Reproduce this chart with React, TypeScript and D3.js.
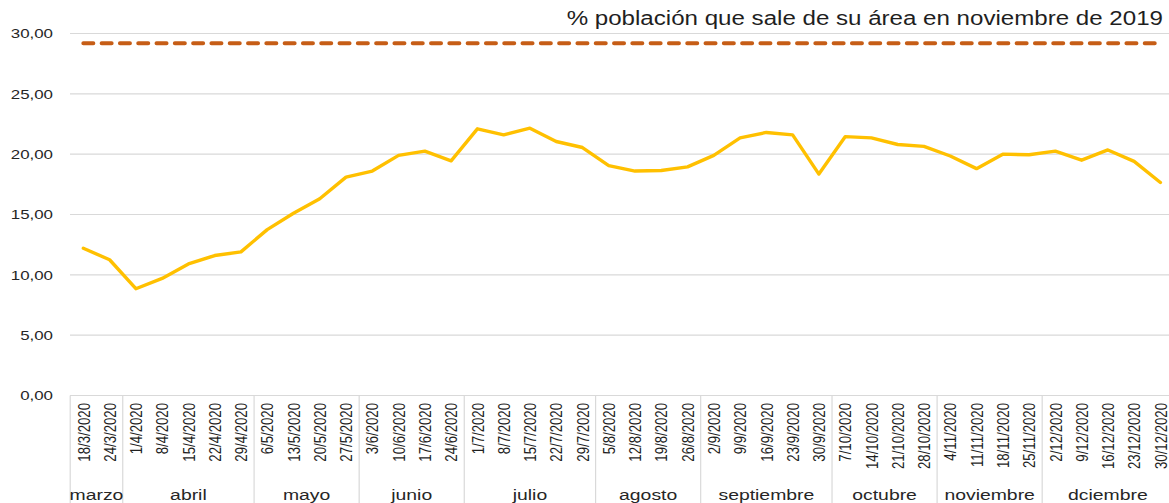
import React from 'react';
import * as d3 from 'd3';

// Semanas 2020 (categorias del eje X)
const dates = [
  '18/3/2020', '24/3/2020',
  '1/4/2020', '8/4/2020', '15/4/2020', '22/4/2020', '29/4/2020',
  '6/5/2020', '13/5/2020', '20/5/2020', '27/5/2020',
  '3/6/2020', '10/6/2020', '17/6/2020', '24/6/2020',
  '1/7/2020', '8/7/2020', '15/7/2020', '22/7/2020', '29/7/2020',
  '5/8/2020', '12/8/2020', '19/8/2020', '26/8/2020',
  '2/9/2020', '9/9/2020', '16/9/2020', '23/9/2020', '30/9/2020',
  '7/10/2020', '14/10/2020', '21/10/2020', '28/10/2020',
  '4/11/2020', '11/11/2020', '18/11/2020', '25/11/2020',
  '2/12/2020', '9/12/2020', '16/12/2020', '23/12/2020', '30/12/2020',
];

const months = ['marzo', 'abril', 'mayo', 'junio', 'julio', 'agosto', 'septiembre', 'octubre', 'noviembre', 'dciembre'];
const monthCounts = [2, 5, 4, 4, 5, 4, 5, 4, 4, 5];

// % poblacion que sale de su area
const values = [
  12.2, 11.25,
  8.85, 9.7, 10.9, 11.6, 11.9,
  13.75, 15.1, 16.3, 18.1,
  18.6, 19.9, 20.25, 19.45,
  22.1, 21.6, 22.15, 21.05, 20.55,
  19.05, 18.6, 18.65, 18.95,
  19.9, 21.35, 21.8, 21.6, 18.35,
  21.45, 21.35, 20.8, 20.65,
  19.85, 18.8, 20.0, 19.95,
  20.25, 19.5, 20.35, 19.4, 17.65,
];

const reference2019 = 29.2;
const yTicks = [0, 5, 10, 15, 20, 25, 30];
const title = '% población que sale de su área en noviembre de 2019';

const W = 1169;
const H = 503;
const FONT = '"Liberation Sans", Arial, sans-serif';
const SX = 1.25; // el original esta estirado en horizontal

export default function App() {
  const x = d3.scaleBand<string>().domain(dates).range([70.2, 70.2 + 42 * 26.27]).padding(0);
  const y = d3.scaleLinear().domain([0, 30]).range([395.5, 33.5]);
  const cx = (d: string) => (x(d) as number) + x.bandwidth() / 2;

  const line = d3.line<number>()
    .x((_, i) => cx(dates[i]))
    .y(d => y(d));

  const refLine = d3.line<string>()
    .x(d => cx(d))
    .y(() => y(reference2019));

  // limites de meses
  const starts = d3.cumsum([0, ...monthCounts]);
  const bounds = Array.from(starts).map(i => 70.2 + i * x.step());

  return (
    <svg width={W} height={H} style={{ position: 'absolute', left: 0, top: 0, background: '#fff' }} fontFamily={FONT}>
      {/* gridlines */}
      {yTicks.map(t => (
        <line key={t} x1={70} x2={W} y1={y(t)} y2={y(t)} stroke="#d9d9d9" strokeWidth={1.2} />
      ))}
      {yTicks.map(t => (
        <text key={'l' + t} transform={`translate(53,${y(t)}) scale(${SX},1)`} textAnchor="end" dy="0.35em"
          fontSize={13.5} fill="#262626">
          {d3.format('.2f')(t).replace('.', ',')}
        </text>
      ))}

      {/* separadores de meses */}
      {bounds.map((b, i) => (
        <line key={'s' + i} x1={b} x2={b} y1={y(0)} y2={H} stroke="#d9d9d9" strokeWidth={1.2} />
      ))}

      {/* etiquetas de fecha */}
      {dates.map(d => (
        <text key={d} transform={`translate(${cx(d)},403) scale(1.3,1) rotate(-90)`} textAnchor="end" dy="0.36em"
          fontSize={13.2} fill="#1f1f1f">
          {d}
        </text>
      ))}

      {/* meses */}
      {months.map((m, i) => (
        <text key={m} transform={`translate(${(bounds[i] + bounds[i + 1]) / 2},500) scale(${SX},1)`} textAnchor="middle"
          fontSize={15.5} fill="#262626">
          {m}
        </text>
      ))}

      {/* referencia noviembre 2019 */}
      <path d={refLine(dates) || ''} fill="none" stroke="#c65d16" strokeWidth={4}
        strokeDasharray="10 8.3" strokeLinecap="round" />

      {/* serie */}
      <path d={line(values) || ''} fill="none" stroke="#ffc000" strokeWidth={3.4} strokeLinejoin="round" strokeLinecap="round" />

      {/* titulo */}
      <text transform={`translate(1163,25) scale(${SX},1)`} textAnchor="end" fontSize={19.3} fill="#1f1f1f">
        {title}
      </text>
    </svg>
  );
}
